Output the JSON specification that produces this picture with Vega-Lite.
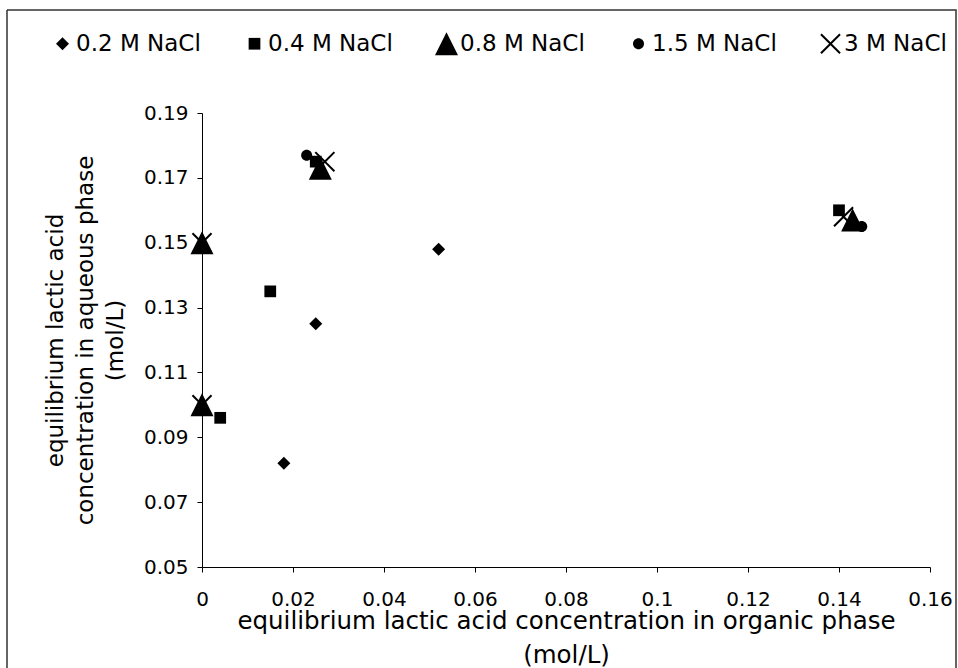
{
  "$schema": "https://vega.github.io/schema/vega-lite/v6.json",
  "width": 949,
  "height": 658,
  "autosize": {"type": "none"},
  "padding": {"left": 7, "top": 10, "right": 2, "bottom": 0},
  "background": "white",
  "config": {
    "view": {"stroke": "#333333", "strokeWidth": 1.5, "strokeDash": [1607, 949, 658, 0]},
    "font": "DejaVu Sans",
    "axis": {
      "grid": false,
      "domainColor": "black",
      "tickColor": "black",
      "labelColor": "black",
      "titleColor": "black",
      "labelFont": "DejaVu Sans",
      "titleFont": "DejaVu Sans",
      "labelFontSize": 20,
      "titleFontSize": 23,
      "titleFontWeight": "normal",
      "tickSize": 5,
      "labelOverlap": false
    },
    "legend": {
      "labelFont": "DejaVu Sans",
      "labelFontSize": 23,
      "labelColor": "black"
    }
  },
  "data": {
    "values": [
      {"series": "0.2 M NaCl", "organic": 0.018, "aqueous": 0.082},
      {"series": "0.2 M NaCl", "organic": 0.025, "aqueous": 0.125},
      {"series": "0.2 M NaCl", "organic": 0.052, "aqueous": 0.148},
      {"series": "0.4 M NaCl", "organic": 0.004, "aqueous": 0.096},
      {"series": "0.4 M NaCl", "organic": 0.015, "aqueous": 0.135},
      {"series": "0.4 M NaCl", "organic": 0.025, "aqueous": 0.175},
      {"series": "0.4 M NaCl", "organic": 0.14, "aqueous": 0.16},
      {"series": "0.8 M NaCl", "organic": 0.0, "aqueous": 0.1},
      {"series": "0.8 M NaCl", "organic": 0.0, "aqueous": 0.15},
      {"series": "0.8 M NaCl", "organic": 0.026, "aqueous": 0.173},
      {"series": "0.8 M NaCl", "organic": 0.143, "aqueous": 0.157},
      {"series": "1.5 M NaCl", "organic": 0.023, "aqueous": 0.177},
      {"series": "1.5 M NaCl", "organic": 0.145, "aqueous": 0.155},
      {"series": "3 M NaCl", "organic": 0.0, "aqueous": 0.1},
      {"series": "3 M NaCl", "organic": 0.0, "aqueous": 0.15},
      {"series": "3 M NaCl", "organic": 0.027, "aqueous": 0.175},
      {"series": "3 M NaCl", "organic": 0.141, "aqueous": 0.158}
    ]
  },
  "mark": {"type": "point", "filled": true, "color": "black", "strokeWidth": 0, "opacity": 1, "size": 529},
  "encoding": {
    "x": {
      "field": "organic",
      "type": "quantitative",
      "scale": {"domain": [0, 0.16], "range": [195, 923], "nice": false, "zero": false},
      "axis": {
        "offset": -101,
        "values": [0, 0.02, 0.04, 0.06, 0.08, 0.1, 0.12, 0.14, 0.16],
        "format": "~g",
        "labelFlush": false,
        "labelPadding": 17,
        "title": ["equilibrium lactic acid concentration in organic phase", "(mol/L)"],
        "titleFontSize": 24.5,
        "titlePadding": 0,
        "titleLineHeight": 34
      }
    },
    "y": {
      "field": "aqueous",
      "type": "quantitative",
      "scale": {"domain": [0.05, 0.19], "range": [557, 103], "nice": false, "zero": false},
      "axis": {
        "offset": -195,
        "values": [0.05, 0.07, 0.09, 0.11, 0.13, 0.15, 0.17, 0.19],
        "format": ".2f",
        "labelPadding": 9,
        "title": ["equilibrium lactic acid", "concentration in aqueous phase", "(mol/L)"],
        "titlePadding": 16,
        "titleLineHeight": 30
      }
    },
    "shape": {
      "field": "series",
      "type": "nominal",
      "scale": {
        "domain": ["0.2 M NaCl", "0.4 M NaCl", "0.8 M NaCl", "1.5 M NaCl", "3 M NaCl"],
        "range": [
          "M0,-0.565L0.565,0L0,0.565L-0.565,0Z",
          "M-0.51,-0.51H0.51V0.51H-0.51Z",
          "M0,-1L1,1L-1,1Z",
          "M0.478,0A0.478,0.478,0,1,1,-0.478,0A0.478,0.478,0,1,1,0.478,0Z",
          "M0,-0.123L0.768,-0.891L0.891,-0.768L0.123,0L0.891,0.768L0.768,0.891L0,0.123L-0.768,0.891L-0.891,0.768L-0.123,0L-0.891,-0.768L-0.768,-0.891Z"
        ]
      },
      "legend": {
        "orient": "none",
        "legendX": 44,
        "legendY": 22,
        "direction": "horizontal",
        "title": null,
        "columnPadding": 42,
        "labelOffset": 2,
        "symbolSize": 529,
        "symbolStrokeWidth": 0,
        "symbolFillColor": "black"
      }
    }
  }
}
